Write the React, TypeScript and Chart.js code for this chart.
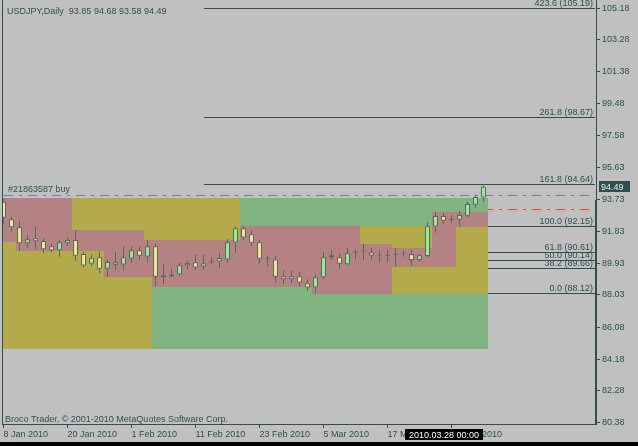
import React, { useEffect, useRef } from "react";
import { Chart, registerables } from "chart.js";

Chart.register(...registerables);

// ---- data ----
const symbolTitle = "USDJPY,Daily  93.85 94.68 93.58 94.49";
const copyrightText = "Broco Trader, © 2001-2010 MetaQuotes Software Corp.";

const opens = [93.60, 92.55, 92.07, 91.11, 91.41, 91.25, 90.93, 90.69, 91.11, 91.31,
  90.47, 89.89, 90.27, 89.59, 89.98, 89.84, 90.20, 90.70, 90.32, 90.94,
  89.20, 89.13, 89.26, 89.80, 89.98, 89.72, 90.02, 90.03, 90.15, 91.16,
  92.01, 91.65, 91.18, 90.20, 90.14, 89.14, 88.96, 89.14, 88.72, 88.46,
  89.08, 90.39, 90.27, 89.86, 90.56, 90.63, 90.58, 90.39, 90.38, 90.44,
  90.51, 90.47, 90.11, 90.35, 92.11, 92.75, 92.52, 92.52, 92.76, 93.42, 93.85];
const highs = [93.76, 92.70, 92.45, 91.61, 92.09, 91.41, 91.07, 91.31, 91.47, 91.91,
  90.61, 90.45, 90.62, 90.11, 90.59, 90.95, 90.95, 90.95, 91.31, 91.07,
  89.86, 89.57, 89.95, 90.08, 90.41, 90.43, 90.23, 90.53, 91.37, 92.13,
  92.15, 91.91, 91.31, 90.35, 90.35, 89.51, 89.45, 89.40, 88.96, 89.26,
  90.59, 90.71, 90.51, 90.83, 90.71, 91.07, 90.83, 90.71, 90.71, 90.83,
  90.69, 90.76, 90.47, 92.39, 92.99, 92.94, 92.79, 93.03, 93.62, 94.02, 94.68];
const lows = [92.27, 91.81, 90.65, 90.85, 90.77, 90.55, 90.57, 90.31, 90.95, 90.07,
  89.68, 89.75, 89.31, 89.11, 89.51, 89.51, 89.93, 90.11, 89.99, 88.52,
  88.68, 89.10, 89.16, 89.57, 89.51, 89.51, 89.87, 89.65, 89.98, 90.55,
  91.31, 90.95, 89.89, 89.71, 88.76, 88.68, 88.72, 88.52, 88.28, 88.12,
  88.98, 90.11, 89.59, 89.81, 90.17, 90.11, 90.15, 89.95, 90.01, 89.71,
  90.31, 89.75, 90.05, 90.27, 91.75, 92.27, 92.34, 92.11, 92.68, 93.24, 93.58];
const closes = [92.64, 92.07, 91.11, 91.35, 91.23, 90.75, 90.69, 91.17, 91.31, 90.37,
  89.78, 90.25, 89.59, 89.99, 89.83, 90.27, 90.70, 90.37, 90.93, 89.11,
  89.08, 89.25, 89.80, 89.93, 89.66, 89.92, 90.01, 90.23, 91.17, 92.01,
  91.46, 91.15, 90.19, 90.19, 89.11, 88.96, 89.14, 88.76, 88.46, 89.08,
  90.27, 90.27, 89.89, 90.51, 90.55, 90.62, 90.38, 90.38, 90.37, 90.43,
  90.50, 90.11, 90.39, 92.13, 92.75, 92.46, 92.51, 92.81, 93.46, 93.88, 94.49];

const xTickLabels = ["8 Jan 2010", "20 Jan 2010", "1 Feb 2010", "11 Feb 2010", "23 Feb 2010", "5 Mar 2010", "17 Mar 2010", "29 Mar 2010"];
const barsPerXTick = 8;
const yTickValues = [105.18, 103.28, 101.38, 99.48, 97.58, 95.63, 93.73, 91.83, 89.93, 88.03, 86.08, 84.18, 82.28, 80.38];

// zones (bar-index range, price range, kind), drawn in order
const zoneFrom = [-1, 18.5, 29.5, 44.5, -1, 1.5, 8.5, 12.5, 17.5, 18.5, 29.5, 38.5, 44.5, 48.5, 53.5, 56.5];
const zoneTo = [29.5, 60.5, 60.5, 60.5, 1.5, 8.5, 12.5, 17.5, 18.5, 29.5, 38.5, 44.5, 48.5, 53.5, 56.5, 60.5];
const zoneLow = [84.79, 84.79, 84.79, 88.10, 91.19, 90.65, 90.65, 89.10, 89.10, 88.50, 88.50, 88.10, 88.10, 89.69, 89.69, 92.09];
const zoneHigh = [93.82, 88.50, 93.82, 92.17, 93.82, 93.82, 91.91, 91.91, 91.31, 91.31, 92.17, 92.17, 91.07, 90.85, 92.98, 92.98];
const zoneKind = ["olive", "green", "green", "olive", "pink", "pink", "pink", "pink", "pink", "pink", "pink", "pink", "pink", "pink", "pink", "pink"];

// Fibonacci
const fibLevels = ["0.0", "38.2", "50.0", "61.8", "100.0", "161.8", "261.8", "423.6"];
const fibPrices = [88.12, 89.66, 90.14, 90.61, 92.15, 94.64, 98.67, 105.19];
const fibStartBar = 25;

// trade lines
const orderLabel = "#21863587 buy";
const orderPrice = 94.0;
const stopPrice = 93.15;
const lastPrice = 94.49;
const markerTimeLabel = "2010.03.28 00:00";
const markerBar = 55;

// ---- styles ----
const BG = "#C0C0C0";
const FG = "#2F4F4F";
const OUTLINE = "#5E6464";
const BULL = "#90EE90";
const BEAR = "#F0E68C";
const ZONE_COLORS: Record<string, string> = { olive: "#B3AA4C", green: "#80B380", pink: "#B48282" };
const FONT = "9px 'Liberation Sans', Arial, sans-serif";

export default function App() {
  const ref = useRef<HTMLCanvasElement | null>(null);

  useEffect(() => {
    const canvas = ref.current;
    if (!canvas) return;
    const idx = opens.map((_, i) => i);

    const overlay = {
      id: "mt4overlay",
      beforeDraw(chart: any) {
        const ctx = chart.ctx;
        ctx.save();
        ctx.fillStyle = BG;
        ctx.fillRect(0, 0, chart.width, chart.height);
        ctx.restore();
      },
      beforeDatasetsDraw(chart: any) {
        const { ctx, chartArea: a, scales } = chart;
        const xs = scales.x, ys = scales.y;
        const py = (v: number) => Math.round(ys.getPixelForValue(v)) + 0.5;
        ctx.save();
        ctx.beginPath();
        ctx.rect(a.left, a.top, a.right - a.left, a.bottom - a.top);
        ctx.clip();
        // fib lines
        ctx.strokeStyle = FG;
        ctx.lineWidth = 1;
        const fx0 = Math.round(xs.getPixelForValue(fibStartBar));
        fibPrices.forEach((p) => {
          ctx.beginPath();
          ctx.moveTo(fx0, py(p));
          ctx.lineTo(a.right - 1, py(p));
          ctx.stroke();
        });
        // trade lines
        ctx.setLineDash([9, 6, 3, 6]);
        ctx.strokeStyle = "#708090";
        ctx.beginPath();
        ctx.moveTo(a.left + 1, py(orderPrice));
        ctx.lineTo(a.right - 6, py(orderPrice));
        ctx.stroke();
        ctx.strokeStyle = "#F04A1A";
        ctx.beginPath();
        ctx.moveTo(a.left + 1, py(stopPrice));
        ctx.lineTo(a.right - 6, py(stopPrice));
        ctx.stroke();
        ctx.setLineDash([]);
        // zones
        zoneKind.forEach((k, i) => {
          const x0 = Math.round(xs.getPixelForValue(zoneFrom[i]));
          const x1 = Math.round(xs.getPixelForValue(zoneTo[i]));
          const y0 = Math.round(ys.getPixelForValue(zoneHigh[i]));
          const y1 = Math.round(ys.getPixelForValue(zoneLow[i]));
          ctx.fillStyle = ZONE_COLORS[k];
          ctx.fillRect(x0, y0, x1 - x0, y1 - y0);
        });
        ctx.restore();
      },
      afterDatasetsDraw(chart: any) {
        const { ctx, chartArea: a, scales } = chart;
        const ys = scales.y;
        const py = (v: number) => Math.round(ys.getPixelForValue(v));
        ctx.save();
        ctx.font = FONT;
        ctx.fillStyle = FG;
        ctx.textBaseline = "alphabetic";
        // fib labels
        ctx.textAlign = "right";
        fibPrices.forEach((p, i) => {
          ctx.fillText(`${fibLevels[i]} (${p.toFixed(2)})`, a.right - 3, py(p) - 2.5);
        });
        ctx.textAlign = "left";
        ctx.fillText(orderLabel, a.left + 5, py(orderPrice) - 3.5);
        ctx.fillText(symbolTitle, a.left + 4, 14);
        ctx.fillText(copyrightText, a.left + 2, a.bottom - 2.5);
        ctx.restore();
      },
      afterDraw(chart: any) {
        const { ctx, chartArea: a, scales } = chart;
        const xs = scales.x, ys = scales.y;
        ctx.save();
        // left border
        ctx.fillStyle = FG;
        ctx.fillRect(a.left - 1, 0, 1, a.bottom + 1);
        // thick right bar
        ctx.fillRect(a.right - 1, 200, 2, a.bottom - 200);
        // current price box
        const yp = Math.round(ys.getPixelForValue(lastPrice));
        ctx.fillStyle = FG;
        ctx.fillRect(a.right + 3, yp - 6, 31, 11);
        ctx.fillStyle = "#E4ECEC";
        ctx.font = FONT;
        ctx.textAlign = "left";
        ctx.textBaseline = "alphabetic";
        ctx.fillText(lastPrice.toFixed(2), a.right + 5, yp + 3);
        // time marker box
        const xm = Math.round(xs.getPixelForValue(markerBar));
        ctx.fillStyle = "#000000";
        ctx.fillRect(xm - 39, a.bottom + 5, 78, 11);
        ctx.fillStyle = "#FFFFFF";
        ctx.textAlign = "center";
        ctx.fillText(markerTimeLabel, xm, a.bottom + 13.5);
        // bottom strip
        ctx.fillStyle = "#000000";
        ctx.fillRect(0, chart.height - 4, chart.width, 4);
        ctx.restore();
      },
    };

    const chart = new Chart(canvas, {
      type: "bar",
      data: {
        datasets: [
          {
            label: "bodies",
            data: idx.map((i) => ({ x: i, y: [opens[i], closes[i]] })) as any,
            backgroundColor: idx.map((i) => (closes[i] >= opens[i] ? BULL : BEAR)),
            borderColor: OUTLINE,
            borderWidth: 1,
            borderSkipped: false,
            barThickness: 5,
            minBarLength: 1,
            grouped: false,
            inflateAmount: 0,
            order: 0,
            clip: 0,
          } as any,
          {
            label: "wicks",
            data: idx.map((i) => ({ x: i, y: [lows[i], highs[i]] })) as any,
            backgroundColor: OUTLINE,
            borderWidth: 0,
            barThickness: 1,
            grouped: false,
            inflateAmount: 0,
            order: 1,
            clip: 0,
          } as any,
        ],
      },
      options: {
        responsive: false,
        animation: false,
        devicePixelRatio: 1,
        layout: { padding: { left: 3, top: 0, right: 0, bottom: 0 } },
        plugins: { legend: { display: false }, tooltip: { enabled: false } },
        events: [],
        scales: {
          x: {
            type: "linear",
            min: -0.0625,
            max: 74.0625,
            offset: false,
            afterBuildTicks: (s: any) => {
              s.ticks = xTickLabels.map((_, k) => ({ value: k * barsPerXTick }));
            },
            afterFit: (s: any) => {
              s.height = 22;
              s.paddingLeft = 0;
              s.paddingRight = 0;
              s.paddingTop = 0;
              s.paddingBottom = 0;
            },
            ticks: {
              autoSkip: false,
              maxRotation: 0,
              minRotation: 0,
              align: "start",
              padding: 1,
              color: FG,
              font: { family: "'Liberation Sans', Arial, sans-serif", size: 9 },
              callback: (_v: any, k: number) => xTickLabels[k],
            },
            grid: { display: true, drawOnChartArea: false, drawTicks: true, tickLength: 4, color: FG, lineWidth: 1, offset: false },
            border: { display: true, color: FG, width: 1 },
          } as any,
          y: {
            type: "linear",
            position: "right",
            min: 80.30,
            max: 105.67,
            afterBuildTicks: (s: any) => {
              s.ticks = yTickValues.map((v) => ({ value: v }));
            },
            afterFit: (s: any) => {
              s.width = 42;
              s.paddingLeft = 0;
              s.paddingRight = 0;
              s.paddingTop = 0;
              s.paddingBottom = 0;
            },
            ticks: {
              autoSkip: false,
              padding: 2,
              color: FG,
              font: { family: "'Liberation Sans', Arial, sans-serif", size: 9 },
              callback: (v: any) => Number(v).toFixed(2),
            },
            grid: { display: true, drawOnChartArea: false, drawTicks: true, tickLength: 4, color: FG, lineWidth: 1 },
            border: { display: true, color: FG, width: 1 },
          } as any,
        },
      },
      plugins: [overlay],
    });
    return () => chart.destroy();
  }, []);

  return (
    <div style={{ position: "fixed", left: 0, top: 0, width: 638, height: 446, background: BG }}>
      <canvas ref={ref} width={638} height={446} style={{ display: "block", width: 638, height: 446 }} />
    </div>
  );
}
